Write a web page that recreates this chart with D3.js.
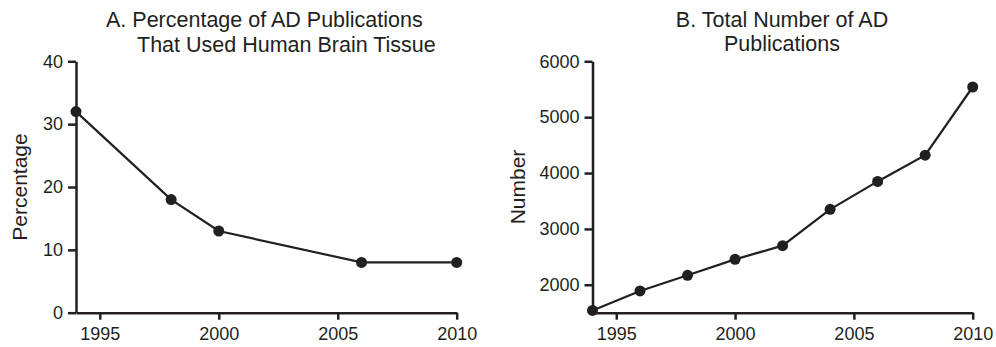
<!DOCTYPE html>
<html>
<head>
<meta charset="utf-8">
<script src="https://cdn.jsdelivr.net/npm/d3@7"></script>
<style>
  body { margin: 0; background: #fff; }
  svg text { font-family: "Liberation Sans", Arial, Helvetica, sans-serif; fill: #231f20; }
</style>
</head>
<body>
<div id="chart"></div>
<script>
// Panel A data
var yearsA = [1994, 1998, 2000, 2006, 2010];
var percentA = [32, 18, 13, 8, 8];
var yTicksA = [0, 10, 20, 30, 40];

// Panel B data
var yearsB = [1994, 1996, 1998, 2000, 2002, 2004, 2006, 2008, 2010];
var numberB = [1540, 1890, 2170, 2455, 2700, 3350, 3850, 4320, 5540];
var yTicksB = [2000, 3000, 4000, 5000, 6000];

var xTicks = [1995, 2000, 2005, 2010];

var ink = "#231f20";
var width = 996, height = 347;

var svg = d3.select("#chart")
  .append("svg")
  .attr("width", width)
  .attr("height", height);

function drawPanel(opts) {
  var xScale = d3.scaleLinear().domain([1994, 2010]).range([opts.x0, opts.x1]);
  var yScale = d3.scaleLinear().domain(opts.yDomain).range([312.7, 61.3]);

  var g = svg.append("g");

  // x axis
  var xAxis = g.append("g")
    .attr("transform", "translate(0," + yScale(opts.yDomain[0]) + ")")
    .call(d3.axisBottom(xScale).tickValues(xTicks).tickFormat(d3.format("d"))
      .tickSize(7).tickSizeOuter(0).tickPadding(8));

  // y axis
  var yAxis = g.append("g")
    .attr("transform", "translate(" + xScale(1994) + ",0)")
    .call(d3.axisLeft(yScale).tickValues(opts.yTicks).tickFormat(d3.format("d"))
      .tickSize(8).tickSizeOuter(0).tickPadding(5));

  [xAxis, yAxis].forEach(function (a) {
    a.select(".domain").attr("stroke", ink).attr("stroke-width", 2.5);
    a.selectAll(".tick line").attr("stroke", ink).attr("stroke-width", 2.5);
    a.selectAll(".tick text").style("font-size", "18px").attr("fill", ink);
  });

  var pts = opts.years.map(function (yr, i) { return [yr, opts.values[i]]; });

  var line = d3.line()
    .x(function (d) { return xScale(d[0]); })
    .y(function (d) { return yScale(d[1]); });

  g.append("path")
    .datum(pts)
    .attr("fill", "none")
    .attr("stroke", ink)
    .attr("stroke-width", 2.2)
    .attr("d", line);

  g.selectAll("circle")
    .data(pts)
    .enter()
    .append("circle")
    .attr("cx", function (d) { return xScale(d[0]); })
    .attr("cy", function (d) { return yScale(d[1]); })
    .attr("r", 5.5)
    .attr("fill", ink);

  // axis label
  g.append("text")
    .attr("transform", "translate(" + opts.labelX + "," + 187 + ") rotate(-90)")
    .attr("text-anchor", "middle")
    .style("font-size", "21px")
    .text(opts.label);

  // title
  opts.title.forEach(function (t) {
    g.append("text")
      .attr("x", t.x)
      .attr("y", t.y)
      .attr("text-anchor", t.anchor)
      .style("font-size", "21.5px")
      .text(t.text);
  });
}

drawPanel({
  x0: 76, x1: 456.7,
  yDomain: [0, 40], yTicks: yTicksA,
  years: yearsA, values: percentA,
  label: "Percentage", labelX: 27,
  title: [
    { text: "A. Percentage of AD Publications", x: 106, y: 27, anchor: "start" },
    { text: "That Used Human Brain Tissue", x: 137, y: 52, anchor: "start" }
  ]
});

drawPanel({
  x0: 592.5, x1: 972.7,
  yDomain: [1500, 6000], yTicks: yTicksB,
  years: yearsB, values: numberB,
  label: "Number", labelX: 525,
  title: [
    { text: "B. Total Number of AD", x: 782, y: 27, anchor: "middle" },
    { text: "Publications", x: 782, y: 51, anchor: "middle" }
  ]
});
</script>
</body>
</html>
